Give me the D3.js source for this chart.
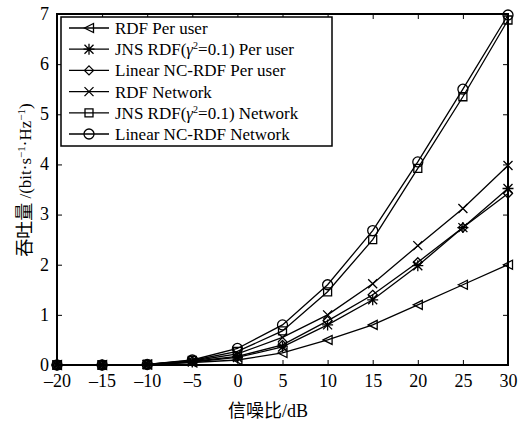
<!DOCTYPE html>
<html>
<head>
<meta charset="utf-8">
<script src="https://d3js.org/d3.v7.min.js"></script>
<style>
  body { margin: 0; background: #fff; }
  text { font-family: "Liberation Serif", "Times New Roman", serif; fill: #000; }
</style>
</head>
<body>
<div id="chart"></div>
<script>
// SNR in dB
var snr = [-20, -15, -10, -5, 0, 5, 10, 15, 20, 25, 30];

// throughput values
var rdfUser    = [0, 0, 0.01, 0.05, 0.10, 0.24, 0.50, 0.80, 1.20, 1.60, 2.00];
var jnsUser    = [0, 0, 0.01, 0.06, 0.15, 0.36, 0.80, 1.30, 1.98, 2.74, 3.52];
var linUser    = [0, 0, 0.01, 0.07, 0.17, 0.40, 0.88, 1.40, 2.05, 2.74, 3.42];
var rdfNet     = [0, 0, 0.01, 0.08, 0.22, 0.55, 1.00, 1.62, 2.38, 3.12, 3.98];
var jnsNet     = [0, 0, 0.01, 0.09, 0.27, 0.68, 1.46, 2.50, 3.92, 5.35, 6.88];
var linNet     = [0, 0, 0.01, 0.10, 0.33, 0.80, 1.60, 2.68, 4.05, 5.50, 6.98];

var xTicks = [-20, -15, -10, -5, 0, 5, 10, 15, 20, 25, 30];
var yTicks = [0, 1, 2, 3, 4, 5, 6, 7];

var series = [
  { name: "RDF Per user", values: rdfUser, marker: "triLeft" },
  { name: "JNS RDF(γ²=0.1) Per user", values: jnsUser, marker: "asterisk", jns: true, tail: " Per user" },
  { name: "Linear NC-RDF Per user", values: linUser, marker: "diamond" },
  { name: "RDF Network", values: rdfNet, marker: "cross" },
  { name: "JNS RDF(γ²=0.1) Network", values: jnsNet, marker: "square", jns: true, tail: " Network" },
  { name: "Linear NC-RDF Network", values: linNet, marker: "circle" }
];

var W = 524, H = 424;
var margin = { left: 57, right: 16, top: 14, bottom: 59 };
var iw = W - margin.left - margin.right, ih = H - margin.top - margin.bottom;
var serif = "'Liberation Serif', 'Times New Roman', serif";
var cjk = "'Noto Sans CJK SC', sans-serif";

var svg = d3.select("#chart").append("svg").attr("width", W).attr("height", H);
var g = svg.append("g").attr("transform", "translate(" + margin.left + "," + margin.top + ")");

var x = d3.scaleLinear().domain([-20, 30]).range([0, iw]);
var y = d3.scaleLinear().domain([0, 7]).range([ih, 0]);

function markerPath(type, cx, cy) {
  var r = 4.5;
  var p = d3.path();
  if (type == "triLeft") {
    p.moveTo(cx - r, cy); p.lineTo(cx + r, cy - r); p.lineTo(cx + r, cy + r); p.closePath();
  } else if (type == "diamond") {
    p.moveTo(cx, cy - r); p.lineTo(cx + r, cy); p.lineTo(cx, cy + r); p.lineTo(cx - r, cy); p.closePath();
  } else if (type == "square") {
    p.rect(cx - 4, cy - 4, 8, 8);
  } else if (type == "circle") {
    p.moveTo(cx + 5, cy); p.arc(cx, cy, 5, 0, 2 * Math.PI);
  } else if (type == "cross") {
    p.moveTo(cx - r, cy - r); p.lineTo(cx + r, cy + r);
    p.moveTo(cx - r, cy + r); p.lineTo(cx + r, cy - r);
  } else if (type == "asterisk") {
    p.moveTo(cx - r, cy - r); p.lineTo(cx + r, cy + r);
    p.moveTo(cx - r, cy + r); p.lineTo(cx + r, cy - r);
    p.moveTo(cx - r - 1, cy); p.lineTo(cx + r + 1, cy);
    p.moveTo(cx, cy - r - 1); p.lineTo(cx, cy + r + 1);
  }
  return p.toString();
}

// lines and markers
var line = d3.line().x(function (d, i) { return x(snr[i]); }).y(function (d) { return y(d); });

series.forEach(function (s) {
  g.append("path")
    .attr("d", line(s.values))
    .attr("fill", "none")
    .attr("stroke", "#000")
    .attr("stroke-width", 1.3);
  g.selectAll(null).data(s.values).enter().append("path")
    .attr("d", function (d, i) { return markerPath(s.marker, x(snr[i]), y(d)); })
    .attr("fill", "none")
    .attr("stroke", "#000")
    .attr("stroke-width", 1.3);
});

// frame
g.append("rect").attr("width", iw).attr("height", ih)
  .attr("fill", "none").attr("stroke", "#000").attr("stroke-width", 2);

// ticks (inward, both sides)
var fmt = function (d) { return d < 0 ? "–" + Math.abs(d) : String(d); };
var xAxis = g.append("g").attr("transform", "translate(0," + ih + ")")
  .call(d3.axisBottom(x).tickValues(xTicks).tickSizeInner(-5).tickSizeOuter(0).tickPadding(12).tickFormat(fmt));
var xTop = g.append("g")
  .call(d3.axisTop(x).tickValues(xTicks).tickSizeInner(-5).tickSizeOuter(0).tickFormat(""));
var yAxis = g.append("g")
  .call(d3.axisLeft(y).tickValues(yTicks).tickSizeInner(-5).tickSizeOuter(0).tickPadding(8).tickFormat(d3.format("d")));
var yRight = g.append("g").attr("transform", "translate(" + iw + ",0)")
  .call(d3.axisRight(y).tickValues(yTicks).tickSizeInner(-5).tickSizeOuter(0).tickFormat(""));

[xAxis, xTop, yAxis, yRight].forEach(function (a) {
  a.attr("font-family", serif).attr("font-size", 18);
  a.select(".domain").remove();
  a.selectAll("line").attr("stroke", "#000").attr("stroke-width", 1);
  a.selectAll("text").attr("fill", "#000");
});
xAxis.selectAll("text").attr("dy", "0.55em");
yAxis.selectAll("text").attr("dy", "0.3em");

// axis titles
var xl = svg.append("text")
  .attr("x", 268).attr("y", 417)
  .attr("text-anchor", "middle")
  .style("font-size", "18px");
xl.append("tspan").style("font-family", cjk).text("信噪比");
xl.append("tspan").text("/dB");

var yl = svg.append("text")
  .attr("transform", "translate(31,180) rotate(-90)")
  .attr("text-anchor", "middle")
  .style("font-size", "17px");
yl.append("tspan").style("font-family", cjk).style("font-size", "18px").text("吞吐量 ");
yl.append("tspan").text("/(bit·s");
yl.append("tspan").attr("dy", -6).style("font-size", "11px").text("−1");
yl.append("tspan").attr("dy", 6).text("·Hz");
yl.append("tspan").attr("dy", -6).style("font-size", "11px").text("−1");
yl.append("tspan").attr("dy", 6).text(")");

// legend
var lg = svg.append("g").attr("transform", "translate(61,17)");
lg.append("rect").attr("width", 271).attr("height", 129)
  .attr("fill", "#fff").attr("stroke", "#000").attr("stroke-width", 1.5);

series.forEach(function (s, i) {
  var cy = 11 + i * 21.2;
  lg.append("line").attr("x1", 8).attr("x2", 48).attr("y1", cy).attr("y2", cy)
    .attr("stroke", "#000").attr("stroke-width", 1.3);
  lg.append("path").attr("d", markerPath(s.marker, 28, cy))
    .attr("fill", "none").attr("stroke", "#000").attr("stroke-width", 1.3);
  var t = lg.append("text").attr("x", 54).attr("y", cy + 6).style("font-size", "17px");
  if (s.jns) {
    t.append("tspan").text("JNS RDF(");
    t.append("tspan").style("font-style", "italic").text("γ");
    t.append("tspan").attr("dy", -6).style("font-size", "10px").text("2");
    t.append("tspan").attr("dy", 6).text("=0.1)" + s.tail);
  } else {
    t.text(s.name);
  }
});
</script>
</body>
</html>
